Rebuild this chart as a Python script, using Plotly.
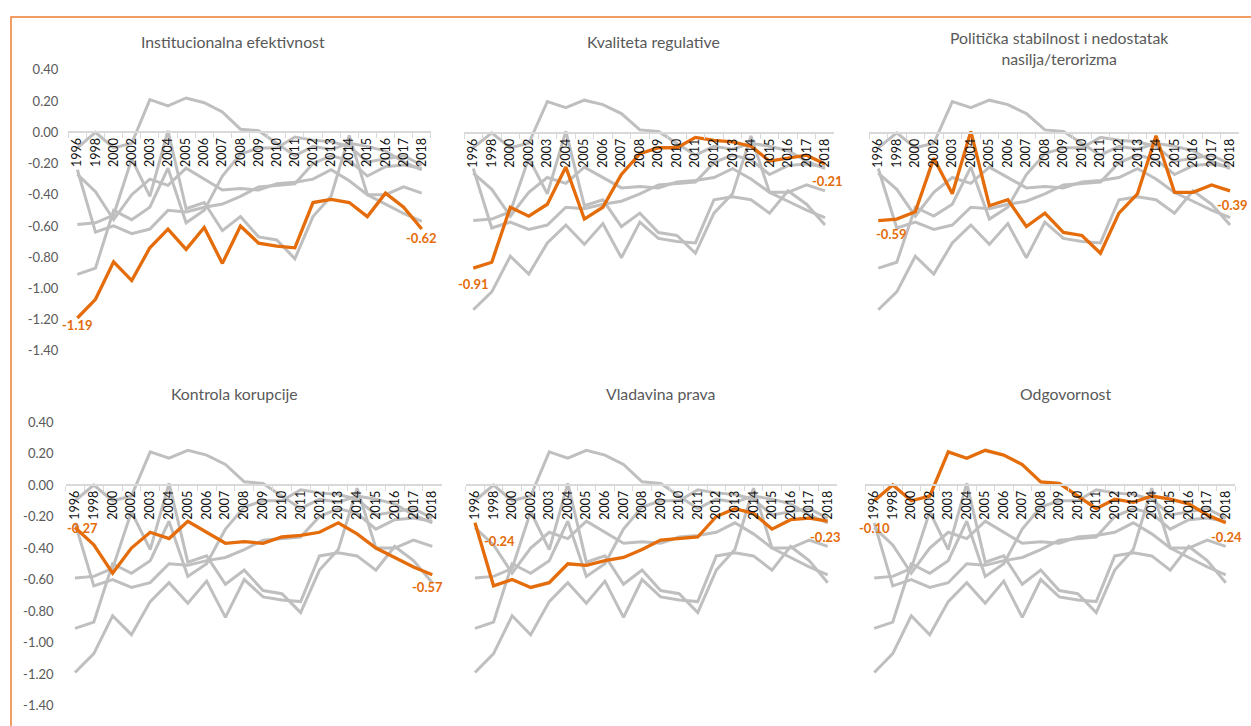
import plotly.graph_objects as go

# Survey years shown on the category axis
years = ["1996", "1998", "2000", "2002", "2003", "2004", "2005", "2006", "2007", "2008",
         "2009", "2010", "2011", "2012", "2013", "2014", "2015", "2016", "2017", "2018"]

# Indicator scores per year
institucionalna_efektivnost = [-1.19, -1.07, -0.83, -0.95, -0.74, -0.62, -0.75, -0.61, -0.84, -0.60,
                               -0.71, -0.73, -0.74, -0.45, -0.43, -0.45, -0.54, -0.39, -0.48, -0.62]
kvaliteta_regulative = [-0.91, -0.87, -0.50, -0.56, -0.48, -0.23, -0.58, -0.50, -0.28, -0.14,
                        -0.10, -0.10, -0.03, -0.05, -0.06, -0.09, -0.19, -0.17, -0.15, -0.21]
politicka_stabilnost = [-0.59, -0.58, -0.53, -0.17, -0.41, 0.01, -0.49, -0.45, -0.63, -0.54,
                        -0.67, -0.69, -0.81, -0.54, -0.41, -0.02, -0.40, -0.40, -0.35, -0.39]
kontrola_korupcije = [-0.27, -0.38, -0.56, -0.40, -0.30, -0.34, -0.23, -0.30, -0.37, -0.36,
                      -0.37, -0.33, -0.32, -0.30, -0.24, -0.31, -0.40, -0.46, -0.52, -0.57]
vladavina_prava = [-0.24, -0.64, -0.60, -0.65, -0.62, -0.50, -0.51, -0.48, -0.46, -0.41,
                   -0.35, -0.34, -0.33, -0.20, -0.15, -0.18, -0.28, -0.22, -0.21, -0.23]
odgovornost = [-0.10, 0.00, -0.10, -0.07, 0.21, 0.17, 0.22, 0.19, 0.13, 0.02,
               0.01, -0.07, -0.15, -0.09, -0.11, -0.07, -0.09, -0.12, -0.19, -0.24]

titles = ["Institucionalna efektivnost", "Kvaliteta regulative",
          "Politička stabilnost i nedostatak<br>nasilja/terorizma",
          "Kontrola korupcije", "Vladavina prava", "Odgovornost"]

y_tickvals = [0.4, 0.2, 0.0, -0.2, -0.4, -0.6, -0.8, -1.0, -1.2, -1.4]
y_ticktext = ["0.40", "0.20", "0.00", "-0.20", "-0.40", "-0.60", "-0.80", "-1.00", "-1.20", "-1.40"]
Y_MIN, Y_MAX = -1.4, 0.4

series = [institucionalna_efektivnost, kvaliteta_regulative, politicka_stabilnost,
          kontrola_korupcije, vladavina_prava, odgovornost]

W, H = 1251, 726
ORANGE = "#E46C0A"
GREY = "#BFBFBF"
FONT = "Lato"

# Panel geometry in pixels: (left, right) and (top, bottom)
x_px = [(68.3, 430.8), (464.0, 834.3), (869.0, 1239.3),
        (65.6, 441.7), (465.7, 837.0), (865.0, 1235.0)]
y_px = [(63.3, 350.5), (66.9, 340.5), (66.9, 340.5),
        (423.3, 713.3), (423.3, 713.3), (423.3, 713.3)]
title_pos = [(232.5, 34), (653, 34), (1059, 41), (235, 394), (660, 394), (1065, 394)]
# pixel offsets of the first / last value labels (dx, dy downward)
label_off = [((0, 7), (0, 9)), ((0, 16), (2, 17)), ((13, 13), (2, 14)),
             ((7, 0), (-5, 12)), ((25, 18), (-2, 16)), ((0, 27), (1, 14))]

fig = go.Figure()
annotations = []

for i in range(6):
    n = "" if i == 0 else str(i + 1)
    xa, ya = "x" + n, "y" + n
    # other indicators in grey
    for j, s in enumerate(series):
        if j == i:
            continue
        fig.add_trace(go.Scatter(x=years, y=s, mode="lines", xaxis=xa, yaxis=ya,
                                 line=dict(color=GREY, width=3), hoverinfo="skip",
                                 showlegend=False))
    # highlighted indicator
    fig.add_trace(go.Scatter(x=years, y=series[i], mode="lines", xaxis=xa, yaxis=ya,
                             line=dict(color=ORANGE, width=3.3), showlegend=False,
                             name=titles[i].replace("<br>", " ")))

    x0, x1 = x_px[i]
    yt, yb = y_px[i]
    xd = [x0 / W, x1 / W]
    yd = [1 - yb / H, 1 - yt / H]
    zero_pos = yd[0] + (0 - Y_MIN) / (Y_MAX - Y_MIN) * (yd[1] - yd[0])
    show_y = i in (0, 3)

    fig.layout["xaxis" + n] = dict(
        domain=xd, anchor="free", position=zero_pos, type="category",
        range=[-0.5, len(years) - 0.5], tickson="boundaries", ticks="outside",
        ticklen=5, tickcolor="#D9D9D9", tickwidth=1, showline=True,
        linecolor="#D9D9D9", linewidth=1.5, showgrid=False, zeroline=False,
        tickangle=-90, tickfont=dict(family=FONT, size=12.5, color="#111111"),
        fixedrange=True)
    fig.layout["yaxis" + n] = dict(
        domain=yd, anchor=xa, range=[Y_MIN, Y_MAX], showgrid=False, zeroline=False,
        showline=False, tickvals=y_tickvals, ticktext=y_ticktext,
        showticklabels=show_y, ticks="", ticklabelstandoff=(9 if i == 0 else 11),
        tickfont=dict(family=FONT, size=13, color="#595959"), fixedrange=True)

    # value labels at both ends (x given as category index)
    for idx, (dx, dy) in zip([0, len(years) - 1], label_off[i]):
        v = series[i][idx]
        annotations.append(dict(
            x=idx, y=v, xref=xa, yref=ya, text=f"<b>{v:.2f}</b>", showarrow=False,
            xanchor="center", yanchor="middle", xshift=dx, yshift=-dy,
            font=dict(family=FONT, size=13, color=ORANGE)))

    tx, ty = title_pos[i]
    annotations.append(dict(
        x=tx / W, y=1 - ty / H, xref="paper", yref="paper", text=titles[i],
        showarrow=False, xanchor="center", yanchor="middle",
        font=dict(family=FONT, size=15.8, color="#595959")))

fig.update_layout(
    width=W, height=H, margin=dict(l=0, r=0, t=0, b=0),
    paper_bgcolor="white", plot_bgcolor="rgba(0,0,0,0)",
    annotations=annotations,
    shapes=[dict(type="rect", xref="paper", yref="paper",
                 x0=11 / W, x1=1.02, y0=-0.02, y1=1 - 9.3 / H,
                 line=dict(color="#ED7D31", width=1.5), layer="above")],
    showlegend=False,
)

fig.write_html("out.html")
